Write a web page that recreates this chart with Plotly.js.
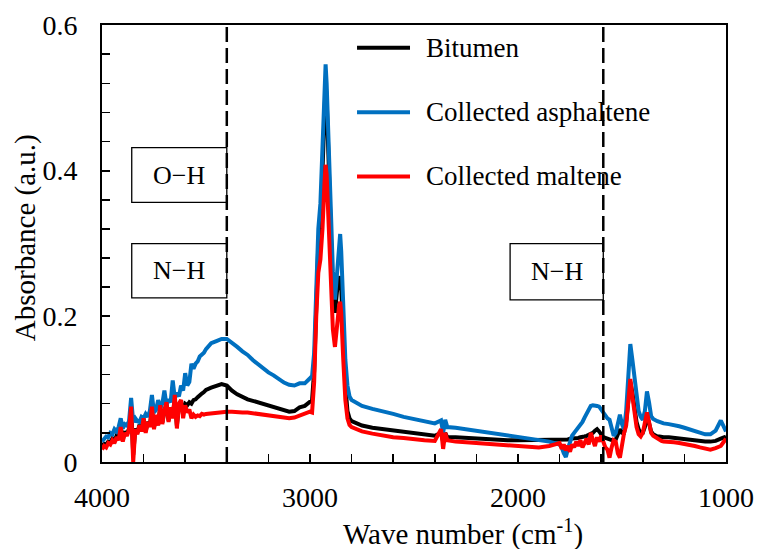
<!DOCTYPE html>
<html>
<head>
<meta charset="utf-8">
<script src="https://cdn.plot.ly/plotly-3.0.1.min.js"></script>
<style>html,body{margin:0;padding:0;background:#fff;}#chart{width:757px;height:549px;}</style>
</head>
<body>
<div id="chart"></div>
<script>
// Wave numbers (cm-1), shared by all three spectra
const wavenumber = [
  4000,3990,3980,3970,3960,3950,3940,3930,3920,3910,
  3900,3890,3880,3870,3860,3850,3840,3830,3820,3810,
  3800,3790,3780,3770,3760,3750,3740,3730,3720,3710,
  3700,3690,3680,3670,3660,3650,3640,3630,3620,3610,
  3600,3590,3580,3570,3560,3550,3540,3530,3520,3510,
  3500,
  3475,3450,3425,3400,3375,3350,3325,3300,3275,3250,3225,3200,3175,3150,3125,3100,3075,3050,3025,
  3000,2990,2980,2970,2960,2950,2940,2930,2925,2920,2910,2900,2890,2880,2870,2860,2855,2850,2840,2830,2820,2810,2800,
  2750,2700,2650,2600,2550,2500,2450,2400,2370,2360,2350,2340,2300,2250,2200,2150,2100,2050,2000,1950,1900,1850,
  1800,1790,1780,1770,1760,1750,1740,1730,1720,1710,
  1700,1690,1680,1670,1660,1650,1640,1630,1620,1610,
  1600,1590,1580,1570,1560,1550,1540,1530,1520,1510,
  1500,1490,1480,1470,1460,1450,1440,1430,1420,1410,
  1400,1390,1380,1370,1360,1350,1340,1330,1320,1310,
  1300,
  1275,1250,1225,1200,1175,1150,1125,1100,1075,1050,1025,1000
];

const bitumen = [
  0.022,0.025,0.024,0.028,0.027,0.032,0.029,0.036,0.033,0.049,
  0.031,0.042,0.038,0.046,0.075,0.010,0.046,0.040,0.051,0.044,
  0.059,0.042,0.055,0.049,0.074,0.047,0.064,0.051,0.076,0.054,
  0.070,0.080,0.057,0.074,0.063,0.088,0.050,0.078,0.082,0.068,
  0.080,0.078,0.082,0.080,0.085,0.086,0.089,0.092,0.094,0.096,
  0.099,
  0.102,0.104,0.107,0.105,0.098,0.093,0.089,0.086,0.084,0.082,0.080,0.078,0.076,0.073,0.071,0.069,0.070,0.075,0.077,
  0.083,0.085,0.125,0.230,0.300,0.320,0.400,0.490,0.520,0.500,0.400,0.300,0.225,0.205,0.235,0.250,0.255,0.240,0.170,0.105,0.070,0.060,0.056,
  0.050,0.047,0.045,0.043,0.041,0.039,0.037,0.036,0.040,0.028,0.040,0.034,0.034,0.033,0.032,0.031,0.031,0.030,0.030,0.030,0.030,0.030,
  0.030,0.030,0.031,0.031,0.031,0.032,0.032,0.033,0.033,0.033,
  0.034,0.034,0.035,0.036,0.037,0.038,0.040,0.043,0.045,0.042,
  0.037,0.034,0.033,0.032,0.031,0.030,0.029,0.031,0.038,0.045,
  0.040,0.040,0.055,0.085,0.110,0.095,0.072,0.055,0.045,0.040,
  0.040,0.048,0.065,0.055,0.042,0.038,0.036,0.035,0.035,0.034,
  0.034,
  0.034,0.033,0.032,0.031,0.030,0.029,0.028,0.028,0.028,0.029,0.032,0.035
];

const asphaltene = [
  0.028,0.032,0.035,0.034,0.040,0.038,0.045,0.042,0.048,0.060,
  0.046,0.052,0.050,0.056,0.088,0.055,0.060,0.056,0.055,0.062,
  0.060,0.066,0.062,0.070,0.092,0.068,0.072,0.085,0.074,0.080,
  0.098,0.078,0.086,0.082,0.112,0.088,0.095,0.090,0.105,0.098,
  0.122,0.105,0.110,0.135,0.128,0.135,0.138,0.145,0.148,0.150,
  0.155,
  0.163,0.166,0.169,0.169,0.164,0.158,0.152,0.147,0.140,0.134,0.128,0.123,0.119,0.114,0.109,0.106,0.105,0.108,0.108,
  0.115,0.118,0.150,0.240,0.320,0.355,0.430,0.510,0.546,0.520,0.430,0.340,0.262,0.223,0.262,0.300,0.313,0.290,0.210,0.140,0.105,0.090,0.085,
  0.077,0.073,0.070,0.066,0.062,0.059,0.056,0.053,0.057,0.040,0.058,0.048,0.047,0.045,0.043,0.041,0.039,0.037,0.035,0.032,0.030,0.028,
  0.024,0.020,0.012,0.007,0.018,0.028,0.036,0.040,0.044,0.047,
  0.050,0.055,0.061,0.067,0.073,0.077,0.078,0.078,0.077,0.076,
  0.072,0.066,0.062,0.060,0.058,0.048,0.036,0.040,0.055,0.065,
  0.052,0.045,0.070,0.110,0.162,0.140,0.115,0.085,0.070,0.062,
  0.058,0.070,0.097,0.082,0.063,0.059,0.057,0.056,0.055,0.054,
  0.053,
  0.052,0.051,0.049,0.047,0.045,0.043,0.040,0.038,0.038,0.043,0.057,0.042
];

const maltene = [
  0.017,0.022,0.020,0.026,0.024,0.030,0.026,0.034,0.030,0.048,
  0.028,0.040,0.036,0.045,0.076,0.000,0.045,0.038,0.050,0.042,
  0.060,0.040,0.055,0.048,0.076,0.045,0.065,0.050,0.078,0.052,
  0.070,0.082,0.055,0.075,0.060,0.092,0.046,0.080,0.085,0.060,
  0.078,0.068,0.072,0.060,0.065,0.062,0.064,0.063,0.066,0.065,
  0.066,
  0.067,0.068,0.069,0.069,0.069,0.068,0.068,0.068,0.067,0.067,0.066,0.065,0.064,0.063,0.062,0.060,0.061,0.064,0.066,
  0.069,0.068,0.110,0.200,0.260,0.278,0.320,0.385,0.408,0.395,0.320,0.250,0.182,0.158,0.195,0.215,0.220,0.205,0.140,0.085,0.060,0.051,0.048,
  0.042,0.039,0.036,0.034,0.033,0.031,0.030,0.029,0.045,0.018,0.040,0.030,0.028,0.027,0.026,0.025,0.024,0.023,0.022,0.021,0.020,0.022,
  0.026,0.018,0.024,0.016,0.022,0.014,0.024,0.020,0.028,0.022,
  0.030,0.020,0.026,0.032,0.024,0.040,0.030,0.022,0.034,0.028,
  0.036,0.026,0.020,0.017,0.006,0.020,0.030,0.028,0.012,0.006,
  0.025,0.040,0.050,0.080,0.114,0.090,0.065,0.048,0.038,0.035,
  0.040,0.052,0.068,0.055,0.040,0.036,0.034,0.032,0.030,0.029,
  0.028,
  0.028,0.027,0.026,0.025,0.023,0.022,0.020,0.018,0.017,0.019,0.022,0.032
];

const seriesNames = ['Bitumen', 'Collected asphaltene', 'Collected maltene'];
const seriesColors = ['#000000', '#0070C0', '#FF0000'];
const seriesValues = [bitumen, asphaltene, maltene];

// Marker positions for dashed guide lines (cm-1) and labelled boxes
const guideLines = [3400, 1590];
const boxLabels = ['O\u2212H', 'N\u2212H', 'N\u2212H'];
const boxX = [[3857, 3400], [3857, 3400], [2038, 1590]];
const boxY = [[0.3564, 0.4316], [0.2254, 0.2997], [0.2227, 0.2997]];

const xTitle = 'Wave number (cm<sup>-1</sup>)';
const yTitle = 'Absorbance (a.u.)';

const FONT = '"Liberation Serif", "Times New Roman", serif';

const traces = seriesNames.map((n, i) => ({
  x: wavenumber, y: seriesValues[i], name: n, type: 'scatter', mode: 'lines',
  line: {color: seriesColors[i], width: 4}, showlegend: false, hoverinfo: 'skip'
}));

const shapes = [];
const annotations = [];
guideLines.forEach(g => shapes.push({type: 'line', xref: 'x', yref: 'y', x0: g, x1: g, y0: 0, y1: 0.6,
  line: {color: '#000', width: 2.5, dash: '15px,6px'}}));
boxLabels.forEach((t, i) => {
  shapes.push({type: 'rect', xref: 'x', yref: 'y', x0: boxX[i][0], x1: boxX[i][1], y0: boxY[i][0], y1: boxY[i][1],
    line: {color: '#000', width: 1.3}, fillcolor: 'rgba(255,255,255,0)'});
  annotations.push({xref: 'x', yref: 'y', x: (boxX[i][0] + boxX[i][1]) / 2, y: (boxY[i][0] + boxY[i][1]) / 2,
    text: t, showarrow: false, font: {family: FONT, size: 26, color: '#000'}});
});
// legend drawn manually
const legY = [0.9478, 0.8002, 0.6536];
seriesNames.forEach((n, i) => {
  shapes.push({type: 'line', xref: 'paper', yref: 'paper', x0: 0.4087, x1: 0.4936, y0: legY[i], y1: legY[i],
    line: {color: seriesColors[i], width: 4}});
  annotations.push({xref: 'paper', yref: 'paper', x: 0.5155, y: legY[i], xanchor: 'left', yanchor: 'middle',
    text: n, showarrow: false, font: {family: FONT, size: 27, color: '#000'}});
});
// axis titles
annotations.push({xref: 'paper', yref: 'paper', x: 0.5785, y: -0.1604, xanchor: 'center', yanchor: 'middle',
  text: xTitle, showarrow: false, font: {family: FONT, size: 29, color: '#000'}});
annotations.push({xref: 'paper', yref: 'paper', x: -0.1234, y: 0.5143, xanchor: 'center', yanchor: 'middle',
  textangle: -90, text: yTitle, showarrow: false, font: {family: FONT, size: 29, color: '#000'}});

const layout = {
  width: 757, height: 549,
  margin: {l: 102, r: 31, t: 25, b: 87},
  paper_bgcolor: '#fff', plot_bgcolor: '#fff',
  showlegend: false,
  font: {family: FONT, size: 26, color: '#000'},
  xaxis: {
    range: [4000, 1000], tick0: 1000, dtick: 1000,
    showgrid: false, zeroline: false, showline: true, linecolor: '#000', linewidth: 2, mirror: true,
    ticks: 'inside', ticklen: 8, tickwidth: 2, tickcolor: '#000',
    minor: {dtick: 200, tick0: 1000, ticks: 'inside', ticklen: 8, tickwidth: 1.5, tickcolor: '#000', showgrid: false},
    ticklabelstandoff: 9,
    tickfont: {family: FONT, size: 28, color: '#000'}
  },
  yaxis: {
    range: [0, 0.6], tickvals: [0, 0.2, 0.4, 0.6], ticktext: ['0', '0.2', '0.4', '0.6'],
    showgrid: false, zeroline: false, showline: true, linecolor: '#000', linewidth: 2, mirror: true,
    ticks: 'inside', ticklen: 8, tickwidth: 2, tickcolor: '#000',
    minor: {dtick: 0.04, tick0: 0, ticks: 'inside', ticklen: 8, tickwidth: 1.5, tickcolor: '#000', showgrid: false},
    ticklabelstandoff: 17,
    tickfont: {family: FONT, size: 28, color: '#000'}
  },
  shapes: shapes,
  annotations: annotations
};

Plotly.newPlot('chart', traces, layout, {staticPlot: true, displayModeBar: false});
</script>
</body>
</html>
